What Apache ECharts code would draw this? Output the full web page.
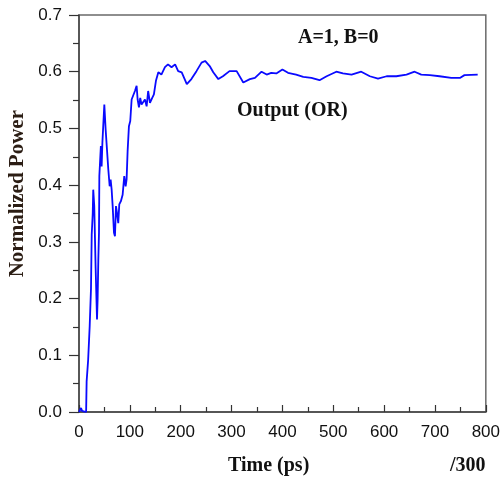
<!DOCTYPE html>
<html>
<head>
<meta charset="utf-8">
<script src="https://cdn.jsdelivr.net/npm/echarts@6/dist/echarts.min.js"></script>
<style>html,body{margin:0;padding:0;background:#fff;}#c{width:503px;height:479px;}</style>
</head>
<body>
<div id="c"></div>
<script>
const times = [0,4,6,8,14,15,18,21,23.6,25,27,28,30,32.7,35.4,36.6,38,39.3,40,43,44.5,46,47.8,49.8,52.4,55,57.6,60.3,62.2,64.2,66.2,68.8,70.7,72.7,74.7,77.2,79.2,82.5,85.8,89,91.7,93.6,95.6,98.2,100.8,103.5,106.7,110,113.3,115.3,117.9,120.4,123,126.3,129.7,133,136,139.5,144,147.3,151.3,156,162,169,175,182,189,195,202,212,221,231,241,248,257,264,274,283,296,310,323,336,346,359,369,378,388,400,411,427,441,457,473,487,506,519,536,555,572,588,605,624,644,660,673,690,709,732,749,758,784];
const power = [0,0.007,0.002,0.005,0,0.054,0.092,0.151,0.218,0.313,0.35,0.392,0.363,0.254,0.163,0.198,0.268,0.316,0.416,0.469,0.433,0.475,0.478,0.542,0.498,0.463,0.428,0.398,0.41,0.392,0.363,0.316,0.31,0.363,0.351,0.333,0.366,0.372,0.383,0.416,0.398,0.41,0.46,0.504,0.513,0.551,0.554,0.566,0.575,0.551,0.537,0.554,0.542,0.545,0.551,0.539,0.566,0.545,0.554,0.56,0.584,0.599,0.595,0.608,0.613,0.608,0.613,0.601,0.599,0.578,0.587,0.601,0.616,0.619,0.61,0.599,0.587,0.592,0.601,0.601,0.581,0.587,0.589,0.6,0.595,0.598,0.597,0.604,0.598,0.595,0.591,0.589,0.585,0.592,0.6,0.597,0.595,0.6,0.592,0.588,0.592,0.592,0.595,0.6,0.595,0.594,0.592,0.589,0.589,0.594,0.595];
const xTicks = [0,100,200,300,400,500,600,700,800];
const yTicks = [0.0,0.1,0.2,0.3,0.4,0.5,0.6,0.7];
const xTitle = 'Time (ps)';
const yTitle = 'Normalized Power';
const scaleNote = '/300';
const label1 = 'A=1, B=0';
const label2 = 'Output (OR)';

const data = times.map((t,i)=>[t,power[i]]);
const chart = echarts.init(document.getElementById('c'), null, {renderer:'canvas'});
const serif = '"Liberation Serif", "Times New Roman", serif';
const sans = '"Liberation Sans", Arial, sans-serif';
chart.setOption({
  animation:false,
  backgroundColor:'#fff',
  grid:{left:79,right:17,top:15,bottom:67,show:true,borderColor:'#6a6a6a',borderWidth:1.5},
  xAxis:{type:'value',min:xTicks[0],max:xTicks[xTicks.length-1],interval:100,
    axisLine:{lineStyle:{color:'#444',width:1.5}},
    axisTick:{inside:true,length:7,lineStyle:{color:'#333',width:1.2}},
    minorTick:{show:true,splitNumber:2,length:5,lineStyle:{color:'#333',width:1.2}},
    splitLine:{show:false},
    axisLabel:{fontFamily:sans,fontSize:17,color:'#111',margin:12}},
  yAxis:{type:'value',min:yTicks[0],max:yTicks[yTicks.length-1],interval:0.1,
    axisLine:{lineStyle:{color:'#444',width:1.5}},
    axisTick:{inside:false,length:10,lineStyle:{color:'#333',width:1.2}},
    minorTick:{show:true,splitNumber:2,length:6,lineStyle:{color:'#333',width:1.2}},
    splitLine:{show:false},
    axisLabel:{fontFamily:sans,fontSize:17,color:'#111',margin:17,formatter:v=>v.toFixed(1)}},
  series:[{type:'line',data:data,showSymbol:false,symbol:'none',lineStyle:{color:'#0a0aff',width:1.8}}],
  graphic:[
    {type:'text',left:7,top:110,rotation:Math.PI/2,style:{text:yTitle,font:'bold 21px '+serif,fill:'#2b1d14'}},
    {type:'text',left:228,top:456,style:{text:xTitle,font:'bold 20px '+serif,fill:'#111'}},
    {type:'text',left:450,top:456,style:{text:scaleNote,font:'bold 20px '+serif,fill:'#111'}},
    {type:'text',left:298,top:28,style:{text:label1,font:'bold 20px '+serif,fill:'#111'}},
    {type:'text',left:237,top:101,style:{text:label2,font:'bold 20px '+serif,fill:'#111'}}
  ]
});
</script>
</body>
</html>
